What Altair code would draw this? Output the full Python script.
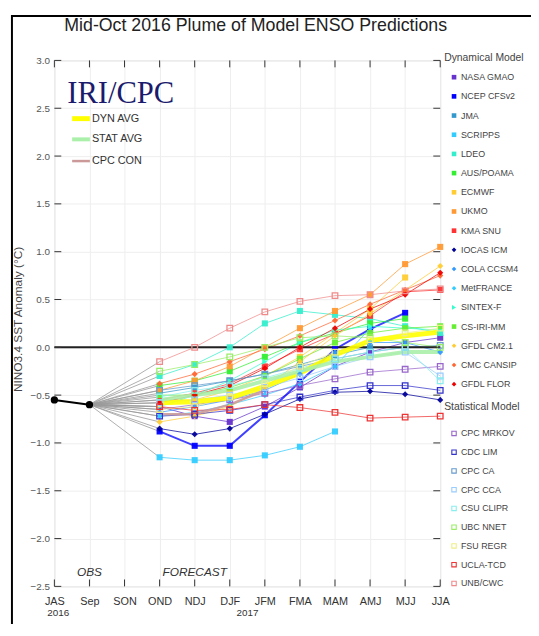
import altair as alt
import pandas as pd

# ---------------- data ----------------
seasons = ["JAS", "Sep", "SON", "OND", "NDJ", "DJF", "JFM", "FMA", "MAM", "AMJ", "MJJ", "JJA"]
forecast_seasons = ["OND", "NDJ", "DJF", "JFM", "FMA", "MAM", "AMJ", "MJJ", "JJA"]
obs_seasons = ["JAS", "Sep"]
obs_values = [-0.55, -0.60]
y_ticks = [-2.5, -2.0, -1.5, -1.0, -0.5, 0.0, 0.5, 1.0, 1.5, 2.0, 2.5, 3.0]

dyn_models = ["NASA GMAO", "NCEP CFSv2", "JMA", "SCRIPPS", "LDEO", "AUS/POAMA", "ECMWF",
              "UKMO", "KMA SNU", "IOCAS ICM", "COLA CCSM4", "MetFRANCE", "SINTEX-F",
              "CS-IRI-MM", "GFDL CM2.1", "CMC CANSIP", "GFDL FLOR"]
dyn_colors = ["#6633cc", "#0000ff", "#3399cc", "#33ccff", "#33eecc", "#33ee33", "#ffcc33",
              "#ff9933", "#ff3333", "#000099", "#3399ff", "#33ccff", "#33ffcc",
              "#66ee33", "#ffcc33", "#ff6633", "#ee0000"]
dyn_shapes = ["square", "square", "square", "square", "square", "square", "square",
              "square", "square", "diamond", "diamond", "diamond", "triangle-right",
              "square", "diamond", "diamond", "diamond"]
dyn_values = [
    [-0.62, -0.72, -0.78, -0.62, -0.42, -0.20, -0.05, 0.05, 0.10],
    [-0.88, -1.03, -1.03, -0.71, -0.36, -0.02, 0.19, 0.36, None],
    [-0.48, -0.42, -0.35, -0.28, -0.18, -0.08, 0.00, None, None],
    [-1.15, -1.18, -1.18, -1.13, -1.04, -0.88, None, None, None],
    [-0.30, -0.18, 0.00, 0.25, 0.38, 0.34, 0.30, 0.22, 0.15],
    [-0.40, -0.35, -0.25, -0.10, 0.05, 0.15, 0.25, 0.30, None],
    [-0.55, -0.55, -0.45, -0.30, -0.10, 0.15, 0.40, 0.73, None],
    [-0.45, -0.35, -0.20, 0.00, 0.20, 0.38, 0.55, 0.87, 1.05],
    [-0.55, -0.48, -0.38, -0.20, -0.02, 0.14, 0.33, 0.58, 0.60],
    [-0.85, -0.91, -0.85, -0.70, -0.54, -0.47, -0.46, -0.49, -0.55],
    [-0.68, -0.62, -0.55, -0.45, -0.28, -0.05, 0.05, 0.05, -0.05],
    [-0.72, -0.68, -0.60, -0.50, -0.38, -0.20, 0.20, None, None],
    [-0.62, -0.50, -0.35, -0.15, 0.05, 0.18, 0.22, 0.20, 0.18],
    [-0.50, -0.50, -0.42, -0.30, -0.12, 0.05, 0.15, 0.20, 0.22],
    [-0.78, -0.72, -0.62, -0.42, -0.15, 0.12, 0.35, 0.60, 0.85],
    [-0.38, -0.28, -0.15, -0.02, 0.12, 0.28, 0.45, 0.60, 0.75],
    [-0.58, -0.50, -0.40, -0.22, 0.00, 0.20, 0.40, 0.55, 0.78],
]

stat_models = ["CPC MRKOV", "CDC LIM", "CPC CA", "CPC CCA", "CSU CLIPR", "UBC NNET",
               "FSU REGR", "UCLA-TCD", "UNB/CWC"]
stat_colors = ["#9966cc", "#3333cc", "#6699cc", "#99ccff", "#88eeee", "#99ee66",
               "#eeee88", "#ee3333", "#f08a8a"]
stat_values = [
    [-0.65, -0.60, -0.55, -0.48, -0.40, -0.33, -0.26, -0.23, -0.20],
    [-0.72, -0.70, -0.66, -0.60, -0.52, -0.45, -0.40, -0.40, -0.45],
    [-0.45, -0.40, -0.35, -0.28, -0.20, -0.12, -0.05, 0.00, 0.02],
    [-0.58, -0.55, -0.50, -0.42, -0.32, -0.20, -0.10, -0.05, -0.30],
    [-0.52, -0.45, -0.40, -0.32, -0.22, -0.12, -0.05, 0.00, -0.35],
    [-0.25, -0.18, -0.10, 0.00, 0.10, 0.12, 0.10, 0.05, 0.00],
    [-0.65, -0.62, -0.52, -0.38, -0.20, -0.05, 0.08, 0.15, 0.20],
    [-0.62, -0.66, -0.65, -0.60, -0.63, -0.68, -0.74, -0.73, -0.72],
    [-0.15, 0.00, 0.20, 0.37, 0.48, 0.54, 0.55, 0.59, 0.61],
]

avg_names = ["DYN AVG", "STAT AVG", "CPC CON"]
avg_colors = ["#ffff00", "#aaf0aa", "#cc9999"]
avg_widths = [5, 4, 2.5]
avg_values = [
    [-0.58, -0.57, -0.53, -0.41, -0.27, -0.08, 0.07, 0.12, 0.16],
    [-0.55, -0.50, -0.45, -0.35, -0.25, -0.15, -0.10, -0.05, -0.05],
    [-0.70, -0.70, -0.60, -0.45, None, None, None, None, None],
]

# ---------------- layout helpers ----------------
W, H = 391, 533
Y_TOP, Y_BOT = 57, 590


def pv(py):
    """page pixel row -> data value on the y scale"""
    return 3.0 - (py - Y_TOP) * 5.5 / (Y_BOT - Y_TOP)


# ---------------- tables ----------------
fc_rows, conn_rows = [], []
for group, names, colors, shapes, values in [
    ("dyn", dyn_models, dyn_colors, dyn_shapes, dyn_values),
    ("stat", stat_models, stat_colors, ["square"] * len(stat_models), stat_values),
]:
    for name, col, shp, vals in zip(names, colors, shapes, values):
        for s, v in zip(forecast_seasons, vals):
            if v is not None:
                fc_rows.append(dict(model=name, group=group, color=col, shape=shp, season=s,
                                    value=v, sw=2.0 if name == "NCEP CFSv2" else 1.0))
        conn_rows.append(dict(model=name, season="Sep", value=obs_values[-1]))
        conn_rows.append(dict(model=name, season="OND", value=vals[0]))
fc_df = pd.DataFrame(fc_rows)
conn_df = pd.DataFrame(conn_rows)

avg_rows = []
for name, col, w, vals in zip(avg_names, avg_colors, avg_widths, avg_values):
    for s, v in zip(forecast_seasons, vals):
        if v is not None:
            avg_rows.append(dict(model=name, color=col, sw=w, season=s, value=v))
avg_df = pd.DataFrame(avg_rows)

obs_df = pd.DataFrame({"season": obs_seasons, "value": obs_values})

# right-hand legend
leg_rows = []
for i, (n, c, s) in enumerate(zip(dyn_models, dyn_colors, dyn_shapes)):
    leg_rows.append(dict(name=n, color=c, shape=s, filled=True, value=pv(74 + 19.44 * i)))
for j, (n, c) in enumerate(zip(stat_models, stat_colors)):
    leg_rows.append(dict(name=n, color=c, shape="square", filled=False, value=pv(435 + 19.0 * j)))
leg_df = pd.DataFrame(leg_rows)
head_df = pd.DataFrame({"name": ["Dynamical Model", "Statistical Model"],
                        "value": [pv(55), pv(408)]})

inner_df = pd.DataFrame({"name": avg_names, "color": avg_colors, "sw": avg_widths,
                         "value": [pv(116), pv(137), pv(159)]})

# ---------------- encodings ----------------
X = alt.X("season:O",
          scale=alt.Scale(type="point", domain=seasons, padding=0),
          axis=alt.Axis(title=None, labelAngle=0, labelFontSize=11, labelColor="#333",
                        labelPadding=9, ticks=False, domain=False, grid=True,
                        gridColor="#eeeeee"))
Y = alt.Y("value:Q",
          scale=alt.Scale(domain=[-2.5, 3.0], nice=False, zero=False),
          axis=alt.Axis(values=y_ticks, format=".1f", title="NINO3.4 SST Anomaly (°C)",
                        titleFontSize=12, titleFontWeight="normal", titleColor="#444",
                        titleX=-37, titleY=262, titleAngle=270, titleBaseline="middle",
                        titleAlign="center", labelFontSize=10, labelColor="#555",
                        labelPadding=5, ticks=False, domain=False, grid=True,
                        gridColor="#eeeeee"))

one = pd.DataFrame({"t": ["x"]})

border = alt.Chart(one).mark_rect(fillOpacity=0, stroke="black", strokeWidth=2).encode(
    x=alt.value(-43), x2=alt.value(W + 300), y=alt.value(-45), y2=alt.value(H + 300))

title = alt.Chart(pd.DataFrame({"t": ["Mid-Oct 2016 Plume of Model ENSO Predictions"]})).mark_text(
    fontSize=18, color="#222", align="center", baseline="middle").encode(
    x=alt.value(204), y=alt.value(-35), text="t:N")

conn = alt.Chart(conn_df).mark_line(color="#999999", strokeWidth=0.8).encode(
    x=X, y=Y, detail="model:N")

lines = alt.Chart(fc_df).mark_line(opacity=0.75).encode(
    x=X, y=Y, detail="model:N",
    color=alt.Color("color:N", scale=None),
    strokeWidth=alt.StrokeWidth("sw:Q", scale=None))

zero = alt.Chart(pd.DataFrame({"value": [0.0]})).mark_rule(color="#222", strokeWidth=2).encode(y=Y)

avgs = alt.Chart(avg_df).mark_line(opacity=0.9).encode(
    x=X, y=Y, detail="model:N",
    color=alt.Color("color:N", scale=None),
    strokeWidth=alt.StrokeWidth("sw:Q", scale=None))

pts_fill = alt.Chart(fc_df[fc_df.group == "dyn"]).mark_point(filled=True, size=38, opacity=0.95).encode(
    x=X, y=Y, color=alt.Color("color:N", scale=None), shape=alt.Shape("shape:N", scale=None))

pts_open = alt.Chart(fc_df[fc_df.group == "stat"]).mark_point(
    filled=False, size=32, strokeWidth=1.3, opacity=1, shape="square").encode(
    x=X, y=Y, color=alt.Color("color:N", scale=None))

obs_line = alt.Chart(obs_df).mark_line(color="black", strokeWidth=2).encode(x=X, y=Y)
obs_pts = alt.Chart(obs_df).mark_point(filled=True, color="black", size=55, shape="circle",
                                       opacity=1).encode(x=X, y=Y)

# inward ticks on all four sides
tick_x = pd.DataFrame({"season": seasons})
tick_y = pd.DataFrame({"value": y_ticks})
tb = alt.Chart(tick_x).mark_rule(color="#333").encode(x=X, y=alt.value(H - 7), y2=alt.value(H))
tt = alt.Chart(tick_x).mark_rule(color="#333").encode(x=X, y=alt.value(0), y2=alt.value(7))
tl = alt.Chart(tick_y).mark_rule(color="#333").encode(y=Y, x=alt.value(0), x2=alt.value(7))
tr = alt.Chart(tick_y).mark_rule(color="#333").encode(y=Y, x=alt.value(W - 7), x2=alt.value(W))

notes = alt.Chart(pd.DataFrame({"season": ["Sep", "NDJ"], "value": [-2.35, -2.35],
                                "t": ["OBS", "FORECAST"]})).mark_text(
    fontStyle="italic", fontSize=12, color="#333").encode(x=X, y=Y, text="t:N")

yr16 = alt.Chart(pd.DataFrame({"season": ["JAS"], "t": ["2016"]})).mark_text(
    fontSize=10, color="#333", dx=4).encode(x=X, y=alt.value(H + 27), text="t:N")
yr17 = alt.Chart(pd.DataFrame({"season": ["DJF"], "t": ["2017"]})).mark_text(
    fontSize=10, color="#333", dx=18).encode(x=X, y=alt.value(H + 27), text="t:N")

iri = alt.Chart(pd.DataFrame({"t": ["IRI/CPC"]})).mark_text(
    font="Liberation Serif", fontSize=31, color="#1b1b6e", align="left",
    baseline="alphabetic").encode(x=alt.value(13), y=alt.value(43), text="t:N")

inner_lines = alt.Chart(inner_df).mark_rule().encode(
    x=alt.value(18), x2=alt.value(36), y=Y,
    color=alt.Color("color:N", scale=None), strokeWidth=alt.StrokeWidth("sw:Q", scale=None))
inner_text = alt.Chart(inner_df).mark_text(align="left", baseline="middle", fontSize=11,
                                           color="#333").encode(
    x=alt.value(38), y=Y, text="name:N")

leg_fill = alt.Chart(leg_df[leg_df.filled]).mark_point(filled=True, size=22, opacity=1).encode(
    x=alt.value(W + 14), y=Y, color=alt.Color("color:N", scale=None),
    shape=alt.Shape("shape:N", scale=None))
leg_open = alt.Chart(leg_df[~leg_df.filled]).mark_point(
    filled=False, size=20, strokeWidth=1.1, shape="square", opacity=1).encode(
    x=alt.value(W + 14), y=Y, color=alt.Color("color:N", scale=None))
leg_text = alt.Chart(leg_df).mark_text(align="left", baseline="middle", fontSize=9,
                                       color="#444").encode(
    x=alt.value(W + 21), y=Y, text="name:N")
leg_head = alt.Chart(head_df).mark_text(align="left", baseline="middle", fontSize=10.5,
                                        color="#444").encode(
    x=alt.value(W + 4), y=Y, text="name:N")

chart = alt.layer(
    border, conn, lines, zero, avgs, pts_fill, pts_open, obs_line, obs_pts,
    tb, tt, tl, tr, notes, yr16, yr17, iri, inner_lines, inner_text,
    leg_fill, leg_open, leg_text, leg_head, title,
).properties(
    width=W, height=H,
    autosize=alt.AutoSizeParams(type="none"),
    padding={"left": 47, "top": 49, "right": 92, "bottom": 34},
).configure_view(
    stroke="#333", strokeWidth=1
).configure(
    font="Liberation Sans"
)

chart.save("out.html", embed_options={"renderer": "svg", "actions": False})
